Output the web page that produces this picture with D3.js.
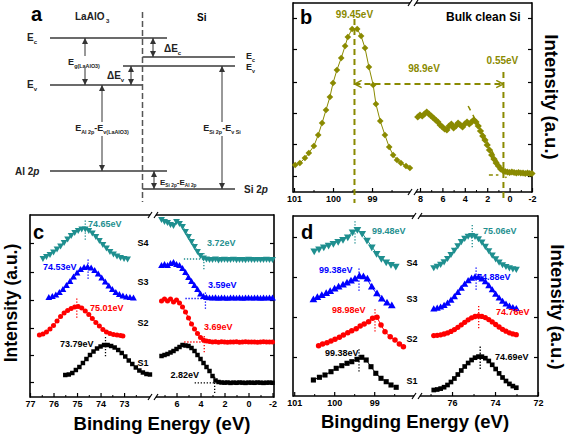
<!DOCTYPE html>
<html><head><meta charset="utf-8">
<script src="https://cdnjs.cloudflare.com/ajax/libs/d3/7.8.5/d3.min.js"></script>
<style>body{margin:0;background:#fff}svg{display:block;font-family:"Liberation Sans",Arial,Helvetica,sans-serif}</style>
</head><body><script>
// ================= DATA =================
// Panel b : bulk clean Si
const bXTicksL = [101, 100, 99], bXMinorL = [100.5, 99.5, 98.5];
const bXTicksR = [8, 6, 4, 2, 0, -2], bXMinorR = [7, 5, 3, 1, -1];
const bYTicks = [16, 48, 79, 110, 143, 174];
const bSi2pE = [100.97,100.85,100.72,100.62,100.49,100.38,100.28,100.18,100.08,100.0,99.9,99.79,99.69,99.62,99.51,99.38,99.28,99.18,99.08,98.97,98.9,98.79,98.67,98.56,98.46,98.36,98.26,98.13,98.03];
const bSi2pI = [27,29,34,39,46,57,69,82,95,109,122,134,146,155,163,163,156,144,125,107,88,71,57,45,37,32,29,26,24];
const bVbE = [8.2,8.0,7.8,7.6,7.4,7.2,7.0,6.8,6.6,6.4,6.2,6.0,5.8,5.6,5.4,5.2,5.0,4.8,4.6,4.4,4.2,4.0,3.8,3.6,3.4,3.2,3.0,2.8,2.6,2.4,2.2,2.0,1.8,1.6,1.4,1.2,1.0,0.8,0.6,0.4,0.2,0.0,-0.2,-0.4,-0.6,-0.8,-1.0,-1.2,-1.4,-1.6,-1.8,-2.0];
const bVbI = [75,77,76,78,80,78,76,74,72,70,67,65,63,62,66,68,64,66,69,67,65,68,70,68,70,72,70,66,61,56,52,47,42,37,33,29,26,23,21.5,20.5,20,19.5,20,19.5,19,19.5,19,19,18.5,19,18.5,18.5];
const bPeak = 99.45, bOnset = 0.55, bGapLabel = "98.9eV";

// Panel c : Al 2p core levels (left) and valence bands (right)
const cXTicksL = [77, 76, 75, 74, 73], cXMinorL = [76.5, 75.5, 74.5, 73.5, 72.5];
const cXTicksR = [6, 4, 2, 0, -2], cXMinorR = [7, 5, 3, 1, -1];
const cYTicks = [15, 42, 69, 97, 125, 154];
const cAlS1 = [[75.5,22],[75.35,22.5],[75.2,24],[75.05,27],[74.9,30],[74.75,34],[74.6,38],[74.45,42],[74.3,45.5],[74.15,48.5],[74.0,50.5],[73.85,52],[73.7,52],[73.55,51],[73.4,49.5],[73.25,47],[73.1,44],[72.95,40.5],[72.8,36.5],[72.65,33],[72.5,29.5],[72.35,26.5],[72.2,24.5],[72.05,23],[71.9,22.5]];
const cAlS2 = [[76.6,62],[76.45,63],[76.3,65],[76.15,68],[76.0,71.5],[75.85,76],[75.7,80.5],[75.55,84],[75.4,86.5],[75.25,88.5],[75.1,90],[74.95,90.5],[74.8,89],[74.65,86],[74.5,82.5],[74.35,78.5],[74.2,74.5],[74.05,71],[73.9,67.5],[73.75,65],[73.6,63.5],[73.45,62.5],[73.3,62],[73.15,61.5],[73.05,61]];
const cAlS3 = [[76.2,99],[76.05,100],[75.9,101.5],[75.75,104],[75.6,107],[75.45,111],[75.3,115],[75.15,119.5],[75.0,123.5],[74.85,127],[74.7,129],[74.55,129.5],[74.4,128.5],[74.25,126],[74.1,122.5],[73.95,118.5],[73.8,114.5],[73.65,110.5],[73.5,107],[73.35,104],[73.2,102],[73.05,100.5],[72.9,99.5],[72.75,99],[72.6,98.5]];
const cAlS4 = [[76.45,139],[76.3,141],[76.15,143],[76.0,145.5],[75.85,148.5],[75.7,151.5],[75.55,155],[75.4,158.5],[75.25,162],[75.1,165],[74.95,167],[74.8,168.5],[74.65,168.5],[74.5,167],[74.35,164.5],[74.2,161],[74.05,157],[73.9,153],[73.75,149.5],[73.6,146],[73.45,143.5],[73.3,141.5],[73.15,140],[73.0,139],[72.85,138.5]];
const cAlPeaks = [73.79, 75.01, 74.53, 74.65];
const cVbE = [7.25,7.0,6.75,6.5,6.25,6.0,5.75,5.5,5.25,5.0,4.75,4.5,4.25,4.0,3.75,3.5,3.25,3.0,2.75,2.5,2.25,2.0,1.75,1.5,1.25,1.0,0.75,0.5,0.25,0,-0.25,-0.5,-0.75,-1.0,-1.25,-1.5,-1.75,-2.0];
const cVbS1 = [41,42,43,44.5,46,48,50,52,51.5,51,49,46,42,38,34,30,26,21,16.5,15,14.5,14.3,14.5,14.1,14.4,14.2,14.5,14.3,14.1,14.4,14.3,14.2,14.5,14.3,14.1,14.3,14.4,14.2];
const cVbS2 = [96,98,96,98,95,97,94,90,85,79,73,68,63.5,59.5,57,56,55.5,55,55.3,54.8,55.2,55,54.7,55.1,55,55.3,54.8,55,55.2,54.9,55,55.1,54.8,55,55.2,54.9,55,55];
const cVbS3 = [131,132,131,133,134,132,131,128,124,119,115,111,107,102.5,100,99,98.7,98.5,98.8,98.3,98.6,98.5,98.2,98.7,98.5,98.4,98.6,98.3,98.5,98.7,98.4,98.5,98.6,98.3,98.5,98.4,98.6,98.5];
const cVbS4 = [178,176,175,173,172,176,174,171,166,161,156,151,146,142,139.5,138.5,138,138,138.5,137.5,138,138.2,137.8,138,138.3,137.7,138,138,137.6,138.2,138,137.8,138.1,137.9,138,138.2,137.8,138];
const cVbOnsets = [2.82, 3.69, 3.59, 3.72];

// Panel d : Si 2p (left) and Al 2p (right)
const dXTicksL = [101, 100, 99], dXMinorL = [100.5, 99.5, 98.5];
const dXTicksR = [76, 74, 72], dXMinorR = [77, 75, 73];
const dYTicks = [39, 79, 119, 159];
const dSiS1 = [[100.52,16],[100.37,18.7],[100.23,21],[100.08,24.3],[99.95,27.7],[99.81,30.3],[99.68,32.7],[99.56,34.3],[99.43,36.7],[99.31,38.7],[99.2,36],[99.08,29.3],[98.96,22.7],[98.83,17.7],[98.7,14.3],[98.58,11],[98.45,8.7]];
const dSiS2 = [[100.39,50.3],[100.29,52],[100.18,53.3],[100.08,55],[99.98,56.7],[99.87,58.7],[99.77,61],[99.66,63.3],[99.56,65.3],[99.45,67.3],[99.35,70],[99.25,72],[99.14,74.3],[99.04,77.7],[98.93,78.7],[98.83,71],[98.73,64.3],[98.6,59.3],[98.48,56],[98.37,52],[98.27,49.3]];
const dSiS3 = [[100.52,96],[100.42,98.3],[100.31,100.3],[100.2,102.3],[100.1,104.3],[99.99,106.7],[99.89,108.7],[99.78,110.7],[99.68,112.7],[99.58,114.7],[99.48,116.7],[99.37,119.5],[99.27,119],[99.17,116.7],[99.06,108.7],[98.93,102],[98.81,96.7],[98.68,92.7],[98.56,90]];
const dSiS4 = [[100.5,145.3],[100.38,147.3],[100.26,149.3],[100.14,151],[100.02,152.7],[99.9,154.7],[99.78,156.7],[99.66,159.3],[99.54,164.3],[99.42,166.7],[99.3,162.7],[99.18,156],[99.06,149.3],[98.94,142.7],[98.82,137.7],[98.7,134.3],[98.58,131.7],[98.46,130]];
const dSiPeaks = [99.38, 98.98, 99.38, 99.48];
const dAlE = [76.85,76.69,76.53,76.37,76.21,76.05,75.89,75.73,75.57,75.41,75.25,75.09,74.93,74.77,74.61,74.45,74.29,74.13,73.97,73.81,73.65,73.49,73.33,73.17,73.01];
const dAlS1 = [6.0,6.5,7.4,8.8,11,14,17.5,21.5,25.5,29.5,33,36,38.3,39.4,39.3,37.8,35,31.2,27,22.6,18.5,15,12.1,9.9,8.3];
const dAlS2 = [60.4,60.7,61.2,62,63.1,64.6,66.4,68.7,71.2,73.7,76.2,78.2,79.5,80,79.6,78.4,76.4,74.1,71.5,69,66.7,64.8,63.2,62.1,61.3];
const dAlS3 = [86.6,87.3,88.5,90.1,92.4,95.3,98.9,103,107.2,111.4,114.9,117.4,118.6,118.3,116.6,113.7,109.9,105.7,101.4,97.5,94.2,91.5,89.4,88,87];
const dAlS4 = [128.8,130.1,132.1,134.7,138,142,146.3,150.8,154.9,158.2,160.3,161,160.1,157.8,154.4,150.2,145.8,141.4,137.6,134.4,131.8,130,128.6,127.7,127.2];
const dAlPeaks = [74.69, 74.76, 74.88, 75.06];

const sampleNames = ["S1", "S2", "S3", "S4"];
const sampleColors = ["#000000", "#ff0000", "#0000ff", "#1f8f8f"];
const sampleShapes = ["square", "circle", "tup", "tdown"];
const olive = "#8a8a00";

// ================= DRAWING =================
const FONT = '"Liberation Sans", Arial, Helvetica, sans-serif';
const svg = d3.select("body").append("svg").attr("width", 567).attr("height", 435)
  .style("font-family", FONT);

function txt(x, y, s, o = {}) {
  return svg.append("text").attr("x", x).attr("y", y).text(s)
    .attr("font-size", o.size || 9).attr("font-weight", o.weight || "bold")
    .attr("fill", o.color || "#000").attr("text-anchor", o.anchor || "start")
    .attr("dominant-baseline", o.base || "central")
    .attr("transform", o.rot ? `rotate(${o.rot},${x},${y})` : null);
}

function frame(l, r, t, b, brk) {
  const g = svg.append("g").attr("stroke", "#000").attr("stroke-width", 1.6).attr("fill", "none");
  g.append("line").attr("x1", l).attr("x2", l).attr("y1", t - 0.8).attr("y2", b + 0.8);
  g.append("line").attr("x1", r).attr("x2", r).attr("y1", t - 0.8).attr("y2", b + 0.8);
  [t, b].forEach(y => {
    g.append("line").attr("x1", l).attr("x2", brk - 3).attr("y1", y).attr("y2", y);
    g.append("line").attr("x1", brk + 3).attr("x2", r).attr("y1", y).attr("y2", y);
    g.append("line").attr("x1", brk - 5).attr("y1", y + 3).attr("x2", brk - 1).attr("y2", y - 3).attr("stroke-width", 1.2);
    g.append("line").attr("x1", brk + 1).attr("y1", y + 3).attr("x2", brk + 5).attr("y2", y - 3).attr("stroke-width", 1.2);
  });
}

function xAxis(scale, y, major, minor) {
  const g = svg.append("g").attr("transform", `translate(0,${y})`)
    .call(d3.axisBottom(scale).tickValues(major).tickSize(-4).tickPadding(4).tickFormat(d => String(d)));
  g.select(".domain").remove();
  g.selectAll("line").attr("stroke", "#000").attr("stroke-width", 1.2);
  g.selectAll("text").attr("font-size", 9).attr("font-weight", "bold").attr("font-family", FONT).attr("fill", "#000");
  const m = svg.append("g").attr("transform", `translate(0,${y})`)
    .call(d3.axisBottom(scale).tickValues(minor).tickSize(-2).tickFormat(""));
  m.select(".domain").remove();
  m.selectAll("line").attr("stroke", "#000").attr("stroke-width", 1);
}

function yTicks(scale, x, vals, side) {
  const ax = (side === "left" ? d3.axisLeft(scale) : d3.axisRight(scale)).tickValues(vals).tickSize(-4).tickFormat("");
  const g = svg.append("g").attr("transform", `translate(${x},0)`).call(ax);
  g.select(".domain").remove();
  g.selectAll("line").attr("stroke", "#000").attr("stroke-width", 1.2);
}

const symType = { square: d3.symbolSquare, circle: d3.symbolCircle, tup: d3.symbolTriangle, tdown: d3.symbolTriangle, diamond: d3.symbolSquare };
function series(data, xs, ys, color, shape, size, lineW) {
  const g = svg.append("g");
  if (lineW) g.append("path").attr("d", d3.line().x(d => xs(d[0])).y(d => ys(d[1]))(data))
    .attr("fill", "none").attr("stroke", color).attr("stroke-width", lineW);
  const rot = shape === "tdown" ? " rotate(180)" : shape === "diamond" ? " rotate(45)" : "";
  g.selectAll("path.m").data(data).join("path").attr("class", "m")
    .attr("transform", d => `translate(${xs(d[0])},${ys(d[1])})${rot}`)
    .attr("d", d3.symbol().type(symType[shape]).size(size)).attr("fill", color);
}
function vline(x, y1, y2, color, dash, w) {
  svg.append("line").attr("x1", x).attr("x2", x).attr("y1", y1).attr("y2", y2)
    .attr("stroke", color).attr("stroke-width", w || 1.3).attr("stroke-dasharray", dash);
}
function hline(x1, x2, y, color, dash, w) {
  svg.append("line").attr("x1", x1).attr("x2", x2).attr("y1", y).attr("y2", y)
    .attr("stroke", color).attr("stroke-width", w || 1.3).attr("stroke-dasharray", dash);
}

// ---------- Panel a : band diagram ----------
const defs = svg.append("defs");
defs.append("marker").attr("id", "ah").attr("viewBox", "0 0 10 10").attr("refX", 10).attr("refY", 5)
  .attr("markerWidth", 6).attr("markerHeight", 6).attr("markerUnits", "userSpaceOnUse").attr("orient", "auto-start-reverse")
  .append("path").attr("d", "M0,0L10,5L0,10z").attr("fill", "#333");
defs.append("marker").attr("id", "chev").attr("viewBox", "0 0 10 10").attr("refX", 9).attr("refY", 5)
  .attr("markerWidth", 9).attr("markerHeight", 9).attr("markerUnits", "userSpaceOnUse").attr("orient", "auto-start-reverse")
  .append("path").attr("d", "M1,1L9,5L1,9").attr("fill", "none").attr("stroke", olive).attr("stroke-width", 1.6);

const A = { laEc: 38, laEv: 85, al2p: 171, siEc: 57, siEv: 66, si2p: 189, xl: 50, xi: 142.5, xr: 235 };
const lev = svg.append("g").attr("stroke", "#3a3a3a").attr("stroke-width", 1.5);
[[A.xl, 167, A.laEc], [A.xl, A.xi, A.laEv], [A.xl, 167, A.al2p], [A.xi, A.xr, A.siEc], [123, A.xr, A.siEv], [A.xi, A.xr, A.si2p]]
  .forEach(([x1, x2, y]) => lev.append("line").attr("x1", x1).attr("x2", x2).attr("y1", y).attr("y2", y));
vline(A.xi, 12, 202, "#555", "6,3", 1.5);

function arrow(x, y1, y2, gap) {
  const g = svg.append("g").attr("stroke", "#333").attr("stroke-width", 1);
  if (gap) {
    g.append("line").attr("x1", x).attr("x2", x).attr("y1", gap[0]).attr("y2", y1).attr("marker-end", "url(#ah)");
    g.append("line").attr("x1", x).attr("x2", x).attr("y1", gap[1]).attr("y2", y2).attr("marker-end", "url(#ah)");
  } else {
    g.append("line").attr("x1", x).attr("x2", x).attr("y1", y1).attr("y2", y2)
      .attr("marker-start", "url(#ah)").attr("marker-end", "url(#ah)");
  }
}
arrow(85, A.laEc, A.laEv, [56, 68]);
arrow(153, A.laEc, A.siEc);
arrow(131, A.siEv, A.laEv);
arrow(102, A.laEv, A.al2p, [122, 136]);
arrow(154, A.al2p, A.si2p);
arrow(222, A.siEv, A.si2p, [122, 136]);

function rich(x, y, parts, anchor, size) {
  const t = svg.append("text").attr("x", x).attr("y", y).attr("font-weight", "bold")
    .attr("font-size", size).attr("text-anchor", anchor || "start").attr("fill", "#222");
  parts.forEach(p => {
    const s = t.append("tspan").text(p.t);
    if (p.sub) s.attr("font-size", size * 0.6).attr("dy", size * 0.3);
    if (p.up) s.attr("dy", -size * 0.3);
    if (p.it) s.attr("font-style", "italic");
  });
  return t;
}
txt(31, 14, "a", { size: 20 });
rich(75, 20, [{ t: "LaAlO" }, { t: " 3", sub: 1 }], "start", 10);
txt(197, 17, "Si", { size: 10 });
rich(27, 41, [{ t: "E" }, { t: "c", sub: 1 }], "start", 10);
rich(27, 88, [{ t: "E" }, { t: "v", sub: 1 }], "start", 10);
rich(15, 175, [{ t: "Al 2" }, { t: "p", it: 1 }], "start", 10);
rich(84, 65, [{ t: "E" }, { t: "g(LaAlO3)", sub: 1 }], "middle", 9);
rich(107, 79, [{ t: "\u0394E" }, { t: "v", sub: 1 }], "start", 10);
rich(164, 52, [{ t: "\u0394E" }, { t: "c", sub: 1 }], "start", 10);
rich(102, 131, [{ t: "E" }, { t: "Al 2p", sub: 1 }, { t: "-E", up: 1 }, { t: "v(LaAlO3)", sub: 1 }], "middle", 9);
rich(222, 131, [{ t: "E" }, { t: "Si 2p", sub: 1 }, { t: "-E", up: 1 }, { t: "v Si", sub: 1 }], "middle", 9);
rich(160, 185, [{ t: "E" }, { t: "Si 2p", sub: 1 }, { t: "-E", up: 1 }, { t: "Al 2p", sub: 1 }], "start", 8);
rich(246, 59, [{ t: "E" }, { t: "c", sub: 1 }], "start", 9);
rich(246, 70, [{ t: "E" }, { t: "v", sub: 1 }], "start", 9);
rich(244, 193, [{ t: "Si 2" }, { t: "p", it: 1 }], "start", 10);

// ---------- Panel b ----------
const xbL = d3.scaleLinear().domain([101, 97.95]).range([294, 413]);
const xbR = d3.scaleLinear().domain([8.625, -2]).range([413, 532]);
const yb = d3.scaleLinear().domain([0, 189]).range([192, 3]);
frame(293, 532, 3, 192, 413);
xAxis(xbL, 192, bXTicksL, bXMinorL);
xAxis(xbR, 192, bXTicksR, bXMinorR);
yTicks(yb, 293, bYTicks, "left");
yTicks(yb, 532, bYTicks, "right");
series(bSi2pE.map((e, i) => [e, bSi2pI[i]]), xbL, yb, olive, "diamond", 22, 1);
series(bVbE.map((e, i) => [e, bVbI[i]]), xbR, yb, olive, "diamond", 26, 1);
const dashB = "6,4";
vline(xbL(bPeak), 19, 203, olive, dashB, 2);
svg.append("line").attr("x1", xbL(bPeak)).attr("x2", xbR(bOnset)).attr("y1", yb(108)).attr("y2", yb(108))
  .attr("stroke", olive).attr("stroke-width", 2).attr("stroke-dasharray", dashB)
  .attr("marker-start", "url(#chev)").attr("marker-end", "url(#chev)");
vline(xbR(bOnset), 72, 199, olive, dashB, 2);
svg.append("line").attr("x1", xbR(3.7)).attr("y1", yb(86)).attr("x2", xbR(0.3)).attr("y2", yb(14))
  .attr("stroke", olive).attr("stroke-width", 1.5).attr("stroke-dasharray", "5,5");
hline(xbR(1.85), xbR(1.0), yb(17), olive, "4,3", 1.5);
txt(xbL(bPeak), 14, bPeak + "eV", { size: 10, color: olive, anchor: "middle" });
txt(424, 68, bGapLabel, { size: 10, color: olive, anchor: "middle" });
txt(xbR(bOnset) - 1, 60, bOnset + "eV", { size: 10, color: olive, anchor: "middle" });
txt(300, 17, "b", { size: 20 });
txt(446, 17, "Bulk clean Si", { size: 12 });
txt(551, 97, "Intensity (a.u.)", { size: 18.5, anchor: "middle", rot: 90 });

// ---------- Panel c ----------
const xcL = d3.scaleLinear().domain([77, 71.77]).range([30, 153]);
const xcR = d3.scaleLinear().domain([7.96, -2.125]).range([153, 274]);
const yc = d3.scaleLinear().domain([0, 182]).range([397, 215]);
frame(30, 274, 215, 397, 153);
xAxis(xcL, 397, cXTicksL, cXMinorL);
xAxis(xcR, 397, cXTicksR, cXMinorR);
yTicks(yc, 30, cYTicks, "left");
yTicks(yc, 274, cYTicks, "right");
const cAl = [cAlS1, cAlS2, cAlS3, cAlS4];
const cVb = [cVbS1, cVbS2, cVbS3, cVbS4];
cAl.forEach((d, i) => series(d, xcL, yc, sampleColors[i], sampleShapes[i], 20, 1));
cVb.forEach((v, i) => series(cVbE.map((e, k) => [e, v[k]]), xcR, yc, sampleColors[i], sampleShapes[i], 20, 1));
cAl.forEach((d, i) => {
  const top = yc(d3.max(d, p => p[1]));
  vline(xcL(cAlPeaks[i]), top - 8, top + 12, sampleColors[i], "1.3,1.7", 1.3);
});
cVb.forEach((v, i) => {
  const base = yc(v[v.length - 1]);
  const x = xcR(cVbOnsets[i]);
  vline(x, base - 6, base + 11, sampleColors[i], "1.3,1.7", 1.3);
  hline(x - 20, x, base, sampleColors[i], "1.3,1.7", 1.3);
});
const cAlLab = [[60, 344], [90, 308], [43, 267], [88, 224]];
cAl.forEach((d, i) => txt(cAlLab[i][0], cAlLab[i][1], cAlPeaks[i].toFixed(2) + "eV", { color: sampleColors[i] }));
const cVbLab = [[199, 375, "end"], [204, 327, "start"], [208, 285, "start"], [207, 243, "start"]];
cVb.forEach((v, i) => txt(cVbLab[i][0], cVbLab[i][1], cVbOnsets[i].toFixed(2) + "eV", { color: sampleColors[i], anchor: cVbLab[i][2] }));
[363, 323, 282, 243].forEach((y, i) => txt(143, y, sampleNames[i], { anchor: "middle" }));
txt(33, 232, "c", { size: 20 });
txt(16.5, 303, "Intensity (a.u.)", { size: 17.5, anchor: "middle", rot: -90, base: "alphabetic" });
txt(162, 423, "Binding Energy (eV)", { size: 18.5, anchor: "middle" });

// ---------- Panel d ----------
const xdL = d3.scaleLinear().domain([101.03, 97.93]).range([293, 417]);
const xdR = d3.scaleLinear().domain([77.63, 72]).range([417, 538]);
const yd = d3.scaleLinear().domain([0, 180]).range([396, 216]);
frame(293, 538, 216, 396, 417);
xAxis(xdL, 396, dXTicksL, dXMinorL);
xAxis(xdR, 396, dXTicksR, dXMinorR);
yTicks(yd, 293, dYTicks, "left");
yTicks(yd, 538, dYTicks, "right");
const dSi = [dSiS1, dSiS2, dSiS3, dSiS4];
const dAl = [dAlS1, dAlS2, dAlS3, dAlS4];
dSi.forEach((d, i) => series(d, xdL, yd, sampleColors[i], sampleShapes[i], i === 1 ? 24 : 26, 1));
dAl.forEach((v, i) => series(dAlE.map((e, k) => [e, v[k]]), xdR, yd, sampleColors[i], sampleShapes[i], 22, 1));
dSi.forEach((d, i) => {
  const top = yd(d3.max(d, p => p[1]));
  vline(xdL(dSiPeaks[i]), top - 8, top + 15, sampleColors[i], "1.3,1.7", 1.3);
});
dAl.forEach((v, i) => {
  const top = yd(d3.max(v));
  vline(xdR(dAlPeaks[i]), top - 10, top + 14, sampleColors[i], "1.3,1.7", 1.3);
});
const dSiLab = [[325, 353], [332, 310], [319, 270], [372, 231]];
dSi.forEach((d, i) => txt(dSiLab[i][0], dSiLab[i][1], dSiPeaks[i].toFixed(2) + "eV", { color: sampleColors[i] }));
const dAlLab = [[495, 357], [496, 312], [477, 277], [483, 231]];
dAl.forEach((d, i) => txt(dAlLab[i][0], dAlLab[i][1], dAlPeaks[i].toFixed(2) + "eV", { color: sampleColors[i] }));
[381, 339, 299, 263].forEach((y, i) => txt(412, y, sampleNames[i], { anchor: "middle" }));
txt(301, 232, "d", { size: 20 });
txt(557, 307, "Intensity (a.u.)", { size: 18.5, anchor: "middle", rot: 90 });
txt(415, 421, "Bingding Energy (eV)", { size: 18.5, anchor: "middle" });
</script></body></html>
